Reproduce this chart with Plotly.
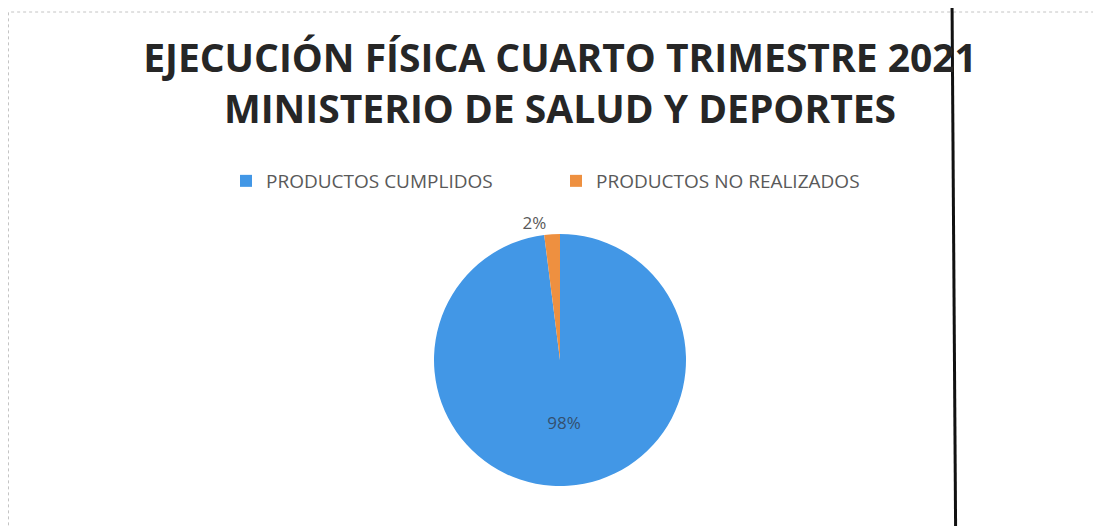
import plotly.graph_objects as go

W, H = 1101, 526
OFF = 8  # page body margin offset of the rendered figure

categories = ["PRODUCTOS CUMPLIDOS", "PRODUCTOS NO REALIZADOS"]
values = [98, 2]
colors = ["#4297E6", "#EE9040"]
title_lines = ["EJECUCIÓN FÍSICA CUARTO TRIMESTRE 2021", "MINISTERIO DE SALUD Y DEPORTES"]


def px(x):
    return (x - OFF) / W


def py(y):
    return 1 - (y - OFF) / H


# pie geometry in page pixels (center, radius) -> paper domain
cx, cy, r = 560, 360, 126
pad = 16
dom_x = [px(cx - r), px(cx + r)]
dom_y = [max(0.0, py(cy + r + pad)), py(cy - r - pad)]

fig = go.Figure()
fig.add_trace(go.Pie(
    labels=categories,
    values=values,
    sort=False,
    direction="clockwise",
    rotation=0,
    marker=dict(colors=colors, line=dict(width=0)),
    textinfo="percent",
    texttemplate="%{percent:.0%}",
    textposition=["inside", "outside"],
    insidetextorientation="horizontal",
    insidetextfont=dict(family="Open Sans", size=17, color="#34506f"),
    outsidetextfont=dict(family="Open Sans", size=17, color="#595959"),
    domain=dict(x=dom_x, y=dom_y),
    showlegend=True,
    hoverinfo="label+percent",
))

fig.update_layout(
    width=W, height=H,
    margin=dict(l=0, r=0, t=0, b=0),
    paper_bgcolor="white",
    plot_bgcolor="white",
    title=dict(
        text="<br>".join(title_lines),
        x=px(560), xanchor="center",
        y=py(72), yanchor="middle",
        font=dict(family="Open Sans", size=39, color="#262626", weight="bold"),
    ),
    legend=dict(
        orientation="h",
        x=px(556), xanchor="center",
        y=py(181), yanchor="middle",
        font=dict(family="Open Sans", size=19, color="#595959"),
        itemwidth=30,
        entrywidth=285,
        entrywidthmode="pixels",
        traceorder="normal",
    ),
    shapes=[
        dict(type="rect", xref="paper", yref="paper",
             x0=0.5 / W, x1=1.02, y0=-0.1, y1=py(12),
             line=dict(color="#c4c4c4", width=1, dash="dot"), layer="below"),
        dict(type="line", xref="paper", yref="paper",
             x0=px(952), x1=px(956), y0=1.02, y1=-0.1,
             line=dict(color="#111111", width=3)),
    ],
)

fig.write_html("out.html")
